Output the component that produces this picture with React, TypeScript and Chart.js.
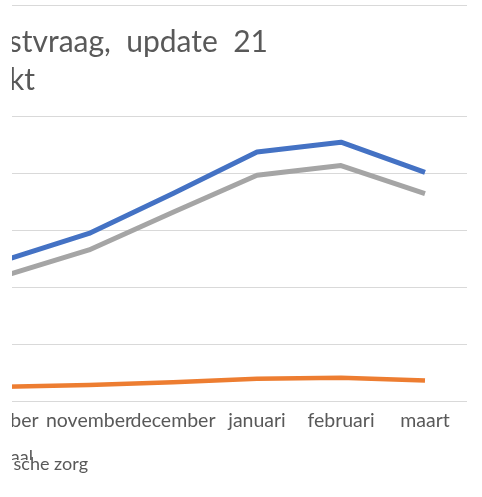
import React, { useEffect, useRef } from "react";
import { Chart, registerables } from "chart.js";

Chart.register(...registerables);

// ---- data ----
const categories = ["oktober", "november", "december", "januari", "februari", "maart"];
const seriesBlue = [2.47, 2.94, 3.64, 4.37, 4.54, 4.01];
const seriesGray = [2.2, 2.65, 3.31, 3.96, 4.13, 3.64];
const seriesOrange = [0.25, 0.28, 0.33, 0.39, 0.41, 0.36];
const yMin = 0;
const yMax = 5;
const yStep = 1;
const titleLines = ["stvraag,  update  21", "kt"];
const legendLabels = ["aal", "sche zorg"];
const seriesNames = ["aal", "", "sche zorg"];

// canvas x = page x + OX
const OX = 50;
const FONT = "Lato, 'Open Sans', sans-serif";
const TEXT = "#595959";
const GRID = "#d9d9d9";

const textPlugin = {
  id: "extraTexts",
  afterDraw(chart: any) {
    const ctx = chart.ctx as CanvasRenderingContext2D;
    ctx.save();
    // top rule
    ctx.strokeStyle = GRID;
    ctx.lineWidth = 1;
    ctx.beginPath();
    ctx.moveTo(12 + OX, 5.5);
    ctx.lineTo(chart.chartArea.right, 5.5);
    ctx.stroke();
    // title
    ctx.fillStyle = TEXT;
    ctx.textAlign = "right";
    ctx.textBaseline = "alphabetic";
    ctx.font = `30px ${FONT}`;
    ctx.fillText(titleLines[0], 268 + OX, 52);
    ctx.fillText(titleLines[1], 35 + OX, 90);
    // legend fragments
    ctx.font = `18px ${FONT}`;
    ctx.save();
    ctx.beginPath();
    ctx.rect(0, 440, 200, 20);
    ctx.clip();
    ctx.fillText(legendLabels[0], 33 + OX, 463);
    ctx.restore();
    ctx.fillText(legendLabels[1], 88 + OX, 470);
    ctx.restore();
  },
};

export default function App() {
  const ref = useRef<HTMLCanvasElement>(null);
  useEffect(() => {
    const chart = new Chart(ref.current as HTMLCanvasElement, {
      type: "line",
      data: {
        labels: categories,
        datasets: [
          { label: seriesNames[0], data: seriesBlue, borderColor: "#4472C4", borderWidth: 5, pointRadius: 0, tension: 0, borderJoinStyle: "round" },
          { label: seriesNames[1], data: seriesGray, borderColor: "#A5A5A5", borderWidth: 5, pointRadius: 0, tension: 0, borderJoinStyle: "round" },
          { label: seriesNames[2], data: seriesOrange, borderColor: "#ED7D31", borderWidth: 4.5, pointRadius: 0, tension: 0, borderJoinStyle: "round" },
        ],
      },
      options: {
        responsive: false,
        animation: false,
        events: [],
        layout: { padding: { left: 13, right: 15, top: 116, bottom: 65 } },
        plugins: { legend: { display: false }, title: { display: false }, tooltip: { enabled: false } },
        scales: {
          x: {
            type: "category",
            offset: true,
            grid: { display: false, drawTicks: false },
            border: { display: false },
            ticks: {
              autoSkip: false,
              maxRotation: 0,
              minRotation: 0,
              padding: 8,
              color: TEXT,
              font: { family: FONT, size: 19.5 },
            },
            afterFit(scale: any) {
              scale.height = 31;
            },
          },
          y: {
            min: yMin,
            max: yMax,
            ticks: { display: false, stepSize: yStep },
            grid: { color: GRID, lineWidth: 1, drawTicks: false },
            border: { display: false },
          },
        },
      },
      plugins: [textPlugin],
    } as any);
    return () => chart.destroy();
  }, []);
  return (
    <div
      style={{
        position: "fixed",
        left: 12,
        top: 0,
        width: 470,
        height: 497,
        overflow: "hidden",
        background: "#ffffff",
      }}
    >
      <canvas
        ref={ref}
        width={532}
        height={497}
        style={{ position: "absolute", left: -62, top: 0, width: 532, height: 497 }}
      />
    </div>
  );
}
